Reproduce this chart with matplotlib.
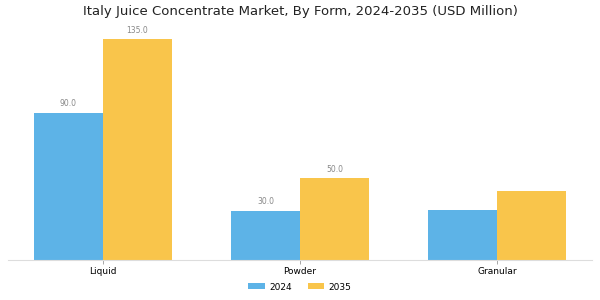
import numpy as np
import matplotlib
matplotlib.use("Agg")
import matplotlib.pyplot as plt

categories = ["Liquid", "Powder", "Granular"]
values_2024 = [90.0, 30.0, 30.5]
values_2035 = [135.0, 50.0, 42.0]
show_label = [True, True, False]

blue = "#5DB3E7"
orange = "#F9C54B"

fig = plt.figure(figsize=(6, 3), dpi=100)
ax = fig.add_axes([8 / 600, 40 / 300, 584 / 600, 245 / 300])

x = np.arange(len(categories))
w = 0.35
b1 = ax.bar(x - w / 2, values_2024, w, color=blue, label="2024")
b2 = ax.bar(x + w / 2, values_2035, w, color=orange, label="2035")

for bars, vals in ((b1, values_2024), (b2, values_2035)):
    for rect, v, s in zip(bars, vals, show_label):
        if s:
            ax.text(rect.get_x() + rect.get_width() / 2, v + 2.8, "%.1f" % v,
                    ha="center", va="bottom", fontsize=5.5, color="#888888")

ax.set_xlim(-0.48, 2.48)
ax.set_ylim(0, 150)
ax.set_xticks(x)
ax.set_xticklabels(categories, fontsize=6.5)
ax.set_yticks([])
for s in ("top", "right", "left"):
    ax.spines[s].set_visible(False)
ax.spines["bottom"].set_color("#dddddd")
ax.tick_params(axis="x", length=3, width=0.6, color="#999999", pad=2)

fig.suptitle("Italy Juice Concentrate Market, By Form, 2024-2035 (USD Million)",
             fontsize=9.5, y=0.985, color="#222222")
fig.legend(loc="center", bbox_to_anchor=(0.5, 1 - 287 / 300), ncol=2,
           frameon=False, fontsize=6.5, handlelength=1.8, handleheight=0.6,
           handletextpad=0.5, columnspacing=1.8)

fig.savefig("out.png", dpi=100)
